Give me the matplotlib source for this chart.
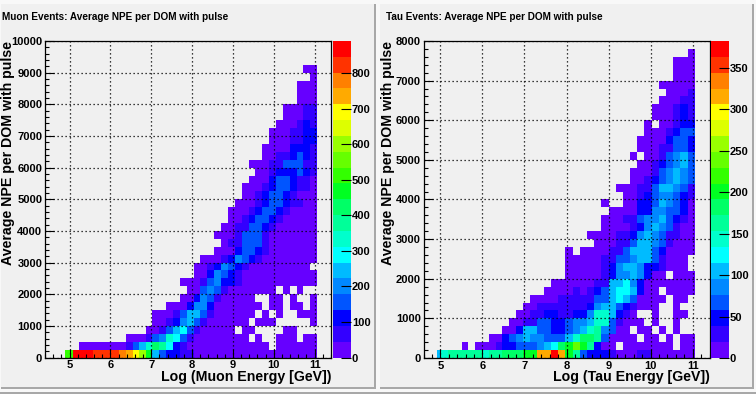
import matplotlib
matplotlib.use('Agg')
import matplotlib.pyplot as plt
import matplotlib.patches as patches
from matplotlib.colors import ListedColormap, BoundaryNorm
from matplotlib.ticker import MultipleLocator
import numpy as np

W, H = 756, 394

# palette levels, bottom to top of the colour bar
palette = ['#6600ff', '#3300ff', '#0000ff', '#0055ff', '#0088ff', '#00bbff', '#00ffff',
           '#00ffcc', '#00ff99', '#00ff66', '#00ff22', '#33ff00', '#66ff00', '#99ff00',
           '#ddff00', '#ffff00', '#ffaa00', '#ff8000', '#ff3300', '#ff0000']

# each row from y=0 up: first x bin, palette level per bin in base 20 ('.' = empty bin)
muon_rows = [
    (3, 'bjjjiiiihgfda532211000000000000000000'),
    (5, '000000013579862' + '1000000000000.000000'),
    (12, '0001347631' + '00000000.0..000.00'),
    (15, '00135631' + '00000.00....00...'),
    (16, '00124531' + '000000.000.....0'),
    (16, '000135531' + '000000.0.0..000'),
    (18, '0002442' + '0000000.00.00.0'),
    (20, '002431' + '00000..00.0..0'),
    (21, '003431' + '0000000.0.0..'),
    (20, '000134221' + '00000000000'),
    (22, '0024321' + '00000000000'),
    (22, '00124321' + '000000000.'),
    (23, '000124321' + '00000000'),
    (25, '00023321' + '0000000'),
    (26, '0113331' + '0000000'),
    (25, '00013331' + '0000000'),
    (26, '00113321' + '000000'),
    (27, '00123321' + '00000'),
    (27, '000123321' + '0000'),
    (28, '0001233211' + '00'),
    (29, '00123321' + '000'),
    (29, '00012332110'),
    (30, '0002332110'),
    (31, '001222321'),
    (30, '0001133311'),
    (32, '00112321'),
    (32, '00002221'),
    (33, '0001122'),
    (33, '0001122'),
    (34, '000121'),
    (35, '00011'),
    (35, '00011'),
    (37, '000'),
    (37, '000'),
    (37, '000'),
    (39, '0'),
    (38, '00'),
]

tau_rows = [
    (3, '57888887889 99aaggjga832'.replace(' ', '') + '22100011000000'),
    (7, '0.000122333' + '4569aca82' + '00.0000000.00'),
    (11, '002345443335799' + '83' + '0000.00.0.00'),
    (13, '00255332234578' + '4300' + '.00.0.0..'),
    (14, '0011332234' + '4577' + '31000.0..0..'),
    (15, '00112211224' + '77521' + '0..0..00.'),
    (16, '00111111124553' + '21000..0..'),
    (17, '000011111335653' + '0000.00.'),
    (19, '000010123566520' + '0.0000'),
    (20, '000000115564' + '20000000'),
    (22, '000001244542' + '00.000'),
    (22, '00000124554221' + '000.'),
    (22, '00000113345531' + '000.'),
    (22, '0.000011355532' + '0000'),
    (26, '00011355431' + '000'),
    (25, '00001124543' + '1100'),
    (27, '00001245431' + '00'),
    (27, '00011344532' + '10'),
    (28, '000022443320'),
    (27, '0..0022354320'),
    (30, '0012344321'),
    (29, '00011355431'),
    (31, '001234543'),
    (31, '000134543'),
    (32, '00123453'),
    (31, '0.0013453'),
    (32, '00011332'),
    (32, '00002332'),
    (33, '0001233'),
    (33, '0.00122'),
    (34, '000121'),
    (34, '000121'),
    (35, '00011'),
    (36, '0001'),
    (35, '00000'),
    (37, '000'),
    (37, '000'),
    (37, '000'),
    (39, '0'),
]

muon_vmax = 890
tau_vmax = 382

# x bin edges at a few bins
muon_edge_bins = [3, 4, 16, 40]
muon_edge_logs = [4.90, 5.08, 7.03, 11.06]
tau_edge_bins = [3, 4, 18, 40]
tau_edge_logs = [4.92, 5.017, 7.29, 11.05]


def counts(rows, vmax):
    # bin contents from the palette level
    z = np.full((40, 37), np.nan)
    for r, (first, levels) in enumerate(rows):
        for i, c in enumerate(levels):
            if c != '.':
                z[r, first + i - 3] = (int(c, 20) + 0.5) * vmax / 20
    return z


def bevel(x0, y0, x1, y1):
    fig.add_artist(patches.Rectangle((x0 / W, 1 - y1 / H), (x1 - x0) / W, (y1 - y0) / H,
                                     facecolor='#f0f0f0', edgecolor='none', zorder=-3))
    fig.add_artist(patches.Rectangle((x1 / W, 1 - (y1 + 2) / H), 2 / W, (y1 - y0 + 2) / H,
                                     facecolor='#a8a8a8', edgecolor='none', zorder=-2))
    fig.add_artist(patches.Rectangle((x0 / W, 1 - (y1 + 2) / H), (x1 - x0 + 2) / W, 2 / H,
                                     facecolor='#a8a8a8', edgecolor='none', zorder=-2))


def panel(box, cbox, z, xedges, vmax, ymax, xlim, ystep, cstep, title, title_x, xlabel, ylabel_x):
    ax = fig.add_axes([box[0] / W, 1 - box[3] / H, (box[2] - box[0]) / W, (box[3] - box[1]) / H])
    cax = fig.add_axes([cbox[0] / W, 1 - cbox[3] / H, (cbox[2] - cbox[0]) / W, (cbox[3] - cbox[1]) / H])
    ax.set_facecolor('#f0f0f0')
    cmap = ListedColormap(palette)
    norm = BoundaryNorm(np.linspace(0, vmax, 21), 20)
    yedges = np.linspace(0, ymax, 41)
    mesh = ax.pcolormesh(xedges, yedges, np.ma.masked_invalid(z), cmap=cmap, norm=norm)
    ax.set_xlim(*xlim)
    ax.set_ylim(0, ymax)
    ax.xaxis.set_major_locator(MultipleLocator(1))
    ax.xaxis.set_minor_locator(MultipleLocator(0.2))
    ax.yaxis.set_major_locator(MultipleLocator(ystep))
    ax.yaxis.set_minor_locator(MultipleLocator(ystep / 5))
    ax.tick_params(which='major', direction='in', length=6.5, width=0.8, labelsize=8, pad=2)
    ax.tick_params(which='minor', direction='in', length=3.2, width=0.8)
    ax.grid(True, which='major', color='black', linestyle=(0, (1, 2.2)), linewidth=0.9)
    ax.set_axisbelow(False)
    for s in ax.spines.values():
        s.set_linewidth(0.9)
    for lab in ax.get_xticklabels() + ax.get_yticklabels():
        lab.set_fontweight('bold')

    cb = fig.colorbar(mesh, cax=cax, spacing='uniform', drawedges=False)
    cb.set_ticks(np.arange(0, vmax, cstep))
    cb.ax.minorticks_off()
    cb.outline.set_visible(False)
    cax.tick_params(direction='in', length=7.5, width=0.8, labelsize=8, pad=1, color='black')
    for lab in cax.get_yticklabels():
        lab.set_fontweight('bold')

    fig.text(title_x / W, 1 - 17 / H, title, fontsize=7.2, fontweight='bold', ha='left', va='center')
    fig.text(box[2] / W + 0.5 / W, 1 - 377 / H, xlabel, fontsize=10.2, fontweight='bold', ha='right', va='center')
    fig.text(ylabel_x / W, 1 - box[1] / H, 'Average NPE per DOM with pulse', fontsize=10.2,
             fontweight='bold', rotation=90, ha='center', va='top')


plt.rcParams['font.family'] = ['Liberation Sans', 'DejaVu Sans']
fig = plt.figure(figsize=(W / 100, H / 100), dpi=100, facecolor='#f8f8f8')
fig.add_artist(patches.Rectangle((0, 0), 1, 2 / H, facecolor='#a8a8a8', edgecolor='none', zorder=-2))
bevel(1, 4, 374, 387)
bevel(380, 4, 752, 387)

bins = np.arange(3, 41)
panel((45, 41, 331, 357.5), (333, 41, 350.5, 357.5), counts(muon_rows, muon_vmax),
      np.interp(bins, muon_edge_bins, muon_edge_logs), muon_vmax,
      10000, (4.4, 11.4), 1000, 100, 'Muon Events: Average NPE per DOM with pulse', 2.5,
      'Log (Muon Energy [GeV])', 8)
panel((423.5, 41, 709.5, 358), (711, 41, 728.5, 358), counts(tau_rows, tau_vmax),
      np.interp(bins, tau_edge_bins, tau_edge_logs), tau_vmax,
      8000, (4.6, 11.4), 1000, 50, 'Tau Events: Average NPE per DOM with pulse', 385.5,
      'Log (Tau Energy [GeV])', 388)

fig.savefig('out.png', dpi=100, facecolor=fig.get_facecolor())
